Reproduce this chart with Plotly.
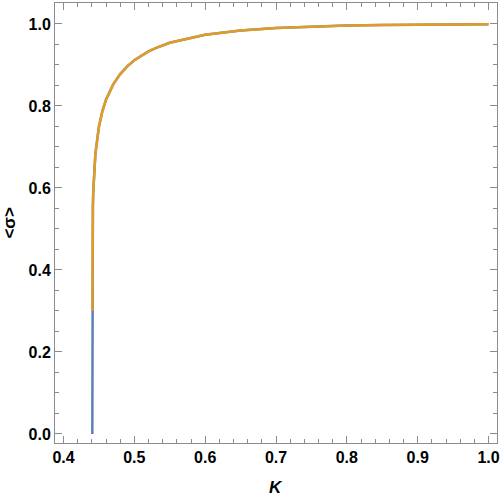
import plotly.graph_objects as go

# Blue curve: full <sigma>(K)
k_blue = [0.440687, 0.440690, 0.44069, 0.4407, 0.44075, 0.4408, 0.441, 0.4415, 0.442, 0.443,
          0.445, 0.45, 0.455, 0.46, 0.47, 0.48, 0.49, 0.50, 0.51, 0.52, 0.53, 0.55,
          0.60, 0.65, 0.70, 0.75, 0.80, 0.85, 0.90, 0.95, 1.00]
s_blue = [0.0, 0.276, 0.276, 0.332, 0.404, 0.435, 0.494, 0.556, 0.590, 0.633,
          0.683, 0.749, 0.788, 0.815, 0.852, 0.8775, 0.8965, 0.9113, 0.9232, 0.9330, 0.9412, 0.9539,
          0.9736, 0.9841, 0.9902, 0.9938, 0.9960, 0.9974, 0.9983, 0.9989, 0.9993]

# Orange curve: starts at <sigma> ~ 0.3
k_orange = [0.440692, 0.4407, 0.44075, 0.4408, 0.441, 0.4415, 0.442, 0.443,
            0.445, 0.45, 0.455, 0.46, 0.47, 0.48, 0.49, 0.50, 0.51, 0.52, 0.53, 0.55,
            0.60, 0.65, 0.70, 0.75, 0.80, 0.85, 0.90, 0.95, 1.00]
s_orange = [0.300, 0.332, 0.404, 0.435, 0.494, 0.556, 0.590, 0.633,
            0.683, 0.749, 0.788, 0.815, 0.852, 0.8775, 0.8965, 0.9113, 0.9232, 0.9330, 0.9412, 0.9539,
            0.9736, 0.9841, 0.9902, 0.9938, 0.9960, 0.9974, 0.9983, 0.9989, 0.9993]

x_ticks = [0.4, 0.5, 0.6, 0.7, 0.8, 0.9, 1.0]
y_ticks = [0.0, 0.2, 0.4, 0.6, 0.8, 1.0]

fig = go.Figure()
fig.add_trace(go.Scatter(x=k_blue, y=s_blue, mode="lines",
                         line=dict(color="#5E81B5", width=2.5), showlegend=False))
fig.add_trace(go.Scatter(x=k_orange, y=s_orange, mode="lines",
                         line=dict(color="#E19C24", width=2.5), showlegend=False))

font_tick = dict(family="Liberation Sans", size=16, color="black")
axis_common = dict(
    showgrid=False, zeroline=False, showline=True, linecolor="#8c8c8c", linewidth=1,
    mirror="allticks", ticks="inside", ticklen=7, tickcolor="#8c8c8c", tickwidth=1,
    tickfont=font_tick, automargin=False,
)
fig.update_xaxes(**axis_common, range=[0.388, 1.012], tickvals=x_ticks,
                 ticktext=[f"<b>{v:.1f}</b>" for v in x_ticks],
                 minor=dict(dtick=0.02, tick0=0, ticks="inside", ticklen=4, tickcolor="#8c8c8c", showgrid=False))
fig.update_yaxes(**axis_common, range=[-0.022, 1.051], tickvals=y_ticks,
                 ticktext=[f"<b>{v:.1f}</b>" for v in y_ticks],
                 minor=dict(dtick=0.05, tick0=0, ticks="inside", ticklen=4, tickcolor="#8c8c8c", showgrid=False))
fig.update_layout(
    width=500, height=496, margin=dict(l=55, r=3, t=3, b=53),
    plot_bgcolor="white", paper_bgcolor="white",
    annotations=[
        dict(text="<b><i>K</i></b>", xref="paper", yref="paper", x=0.5, y=-0.1,
             xanchor="center", yanchor="middle", showarrow=False,
             font=dict(family="Liberation Sans", size=17, color="black")),
        dict(text="<b>&lt;σ&gt;</b>", xref="paper", yref="paper", x=-0.105, y=0.5,
             xanchor="center", yanchor="middle", showarrow=False, textangle=-90,
             font=dict(family="Liberation Sans", size=17, color="black")),
    ],
)
fig.write_html("out.html", config={"displayModeBar": False},
               post_script="document.body.style.margin='0';document.body.style.overflow='hidden';")
